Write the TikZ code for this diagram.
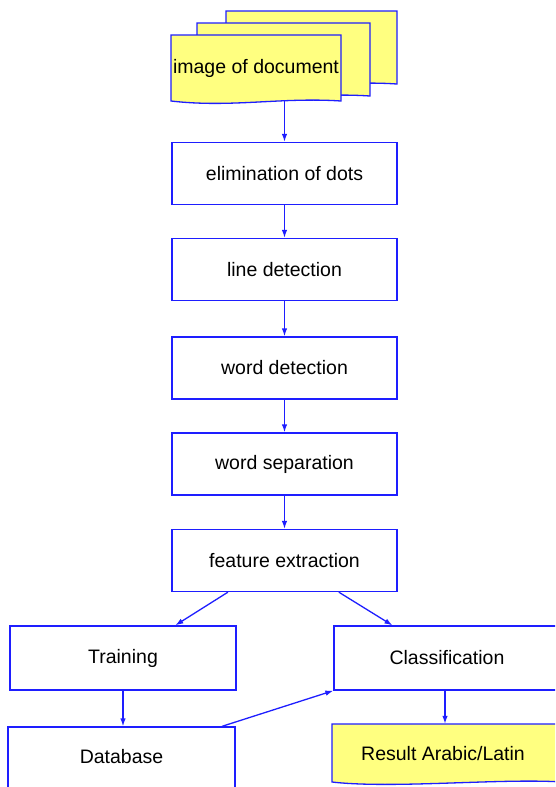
\documentclass[tikz,border=0pt]{standalone}
\usepackage{fontspec}
\setmainfont{Liberation Sans}
\usetikzlibrary{arrows.meta,calc}
\definecolor{docyellow}{RGB}{255,255,128}
\definecolor{lineblue}{RGB}{30,30,255}
% page with a wavy lower edge: left, top, right, bottom
\newcommand\docpage[4]{\filldraw[fill=docyellow,draw=lineblue,line width=1.3pt]
  (#1,#2) -- (#3,#2) -- (#3,#4) .. controls +(-60,-4) and +(60,7) .. (#1,#4) -- cycle;}

\begin{document}
\begin{tikzpicture}[x=1pt,y=-1pt,
    box/.style={draw=lineblue,line width=1.3pt,fill=white,minimum width=225pt,
      minimum height=62pt,inner sep=0pt,font=\fontsize{19.5}{21}\selectfont},
    txt/.style={inner sep=0pt,font=\fontsize{19.5}{21}\selectfont},
    arr/.style={draw=lineblue,line width=1.3pt,-{Latex[length=8pt,width=5.5pt]}}]
\useasboundingbox (0,0) rectangle (555,787);
\clip (0,0) rectangle (555,787);

% stack of pages
\docpage{226}{11}{397}{84}
\docpage{197}{23}{370}{96}
\docpage{171}{35}{341}{101}
\node[txt,minimum width=170pt,minimum height=66pt] (doc) at (256,68) {image of document};

% main chain
\node[box] (elim) at (284.5,173.5) {elimination of dots};
\node[box] (line) at (284.5,269.5) {line detection};
\node[box] (word) at (284.5,368) {word detection};
\node[box] (sep) at (284.5,464) {word separation};
\node[box] (feat) at (284.5,560.5) {feature extraction};

\node[box,minimum width=226pt,minimum height=64pt] (train) at (123,658) {Training};
\node[box,minimum width=226pt,minimum height=64pt] (class) at (447,658) {Classification};
\node[box,minimum width=227pt,minimum height=70pt,text depth=12pt] (db) at (121.5,762) {Database};

\docpage{332}{724}{562}{782}
\node[txt,minimum width=223pt,minimum height=60pt] (res) at (443,754) {Result Arabic/Latin};

\draw[arr] (doc.south -| elim.north) -- (elim.north);
\draw[arr] (elim) -- (line);
\draw[arr] (line) -- (word);
\draw[arr] (word) -- (sep);
\draw[arr] (sep) -- (feat);
\draw[arr] ($(feat.south west)!0.25!(feat.south east)$) -- ($(train.north west)!0.73!(train.north east)$);
\draw[arr] ($(feat.south west)!0.74!(feat.south east)$) -- ($(class.north west)!0.26!(class.north east)$);
\draw[arr] (train.south) -- (train.south |- db.north);
\draw[arr] ($(db.north west)!0.94!(db.north east)$) -- (class.south west);
\draw[arr] (class.south -| 445,0) -- (res.north -| 445,0);
\end{tikzpicture}
\end{document}
